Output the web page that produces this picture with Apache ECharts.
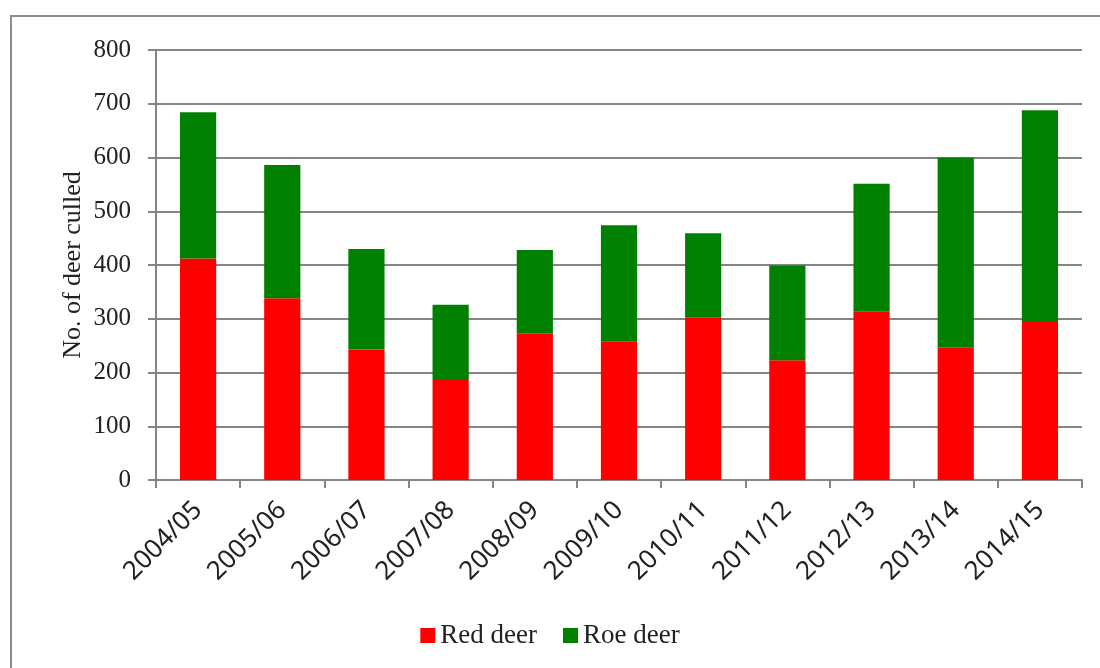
<!DOCTYPE html>
<html>
<head>
<meta charset="utf-8">
<script src="https://cdn.jsdelivr.net/npm/echarts@6/dist/echarts.min.js"></script>
<style>
  html, body { margin: 0; padding: 0; background: #fff; }
  #chart { width: 1100px; height: 668px; }
</style>
</head>
<body>
<div id="chart"></div>
<script>
// seasons and cull counts
const seasons = ['2004/05', '2005/06', '2006/07', '2007/08', '2008/09', '2009/10',
    '2010/11', '2011/12', '2012/13', '2013/14', '2014/15'];
const redDeer = [412, 338, 243, 188, 273, 257, 302, 223, 314, 247, 296];
const roeDeer = [272, 248, 187, 138, 155, 217, 157, 176, 237, 353, 392];
const yTicks = { min: 0, max: 800, interval: 100 };

const gray = '#858585';
const serif = '"Liberation Serif", "DejaVu Serif", serif';

const chart = echarts.init(document.getElementById('chart'));
chart.setOption({
    backgroundColor: '#fff',
    animation: false,
    graphic: [{
        type: 'rect',
        shape: { x: 11, y: 16, width: 1300, height: 900 },
        style: { fill: 'none', stroke: '#8c8c8c', lineWidth: 2 },
        silent: true
    }],
    grid: { left: 156, right: 18, top: 50, bottom: 188 },
    legend: {
        bottom: 14,
        left: 'center',
        icon: 'rect',
        itemWidth: 15,
        itemHeight: 15,
        itemGap: 26,
        textStyle: { fontFamily: serif, fontSize: 27, color: '#222' },
        data: ['Red deer', 'Roe deer']
    },
    xAxis: {
        type: 'category',
        data: seasons,
        axisLine: { lineStyle: { color: gray, width: 2 } },
        axisTick: { show: true, length: 8, lineStyle: { color: gray, width: 2 } },
        axisLabel: {
            rotate: 45,
            margin: 26,
            fontFamily: '"Noto Sans", "Open Sans", sans-serif',
            fontSize: 26,
            color: '#222'
        }
    },
    yAxis: {
        type: 'value',
        min: yTicks.min,
        max: yTicks.max,
        interval: yTicks.interval,
        name: 'No. of deer culled',
        nameLocation: 'middle',
        nameGap: 70,
        nameMoveOverlap: false,
        nameTextStyle: { fontFamily: serif, fontSize: 26, color: '#222' },
        axisLine: { show: true, lineStyle: { color: gray, width: 2 } },
        axisTick: { show: true, length: 8, lineStyle: { color: gray, width: 2 } },
        axisLabel: { margin: 25, fontFamily: serif, fontSize: 25, color: '#222' },
        splitLine: { lineStyle: { color: gray, width: 2 } }
    },
    series: [
        {
            name: 'Red deer',
            type: 'bar',
            stack: 'deer',
            barWidth: '43%',
            itemStyle: { color: '#ff0000' },
            data: redDeer
        },
        {
            name: 'Roe deer',
            type: 'bar',
            stack: 'deer',
            barWidth: '43%',
            itemStyle: { color: '#008000' },
            data: roeDeer
        }
    ]
});
</script>
</body>
</html>
